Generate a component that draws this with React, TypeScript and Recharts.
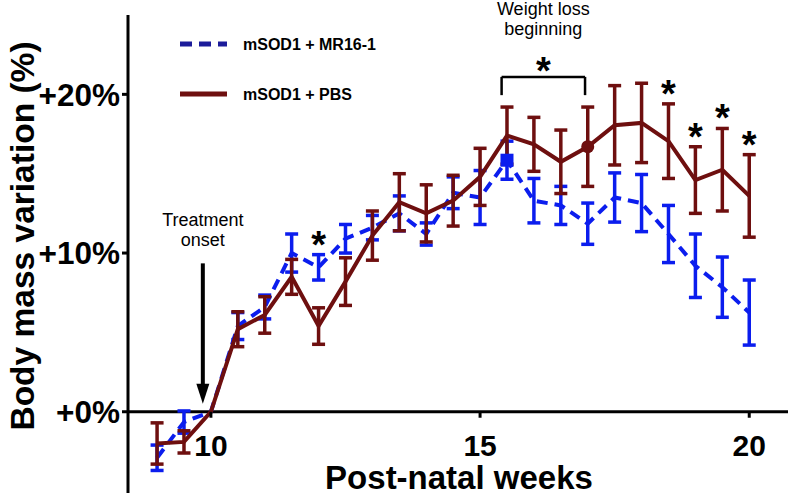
import React from 'react';
import { LineChart, Line, XAxis, YAxis, ErrorBar, ReferenceLine, ReferenceDot, Legend } from 'recharts';

const WEEKS = [9, 9.5, 10, 10.5, 11, 11.5, 12, 12.5, 13, 13.5, 14, 14.5, 15, 15.5, 16, 16.5, 17, 17.5, 18, 18.5, 19, 19.5, 20];

// mSOD1 + MR16-1 (blue, dashed)
const MR16_MEAN = [-2.9, -0.65, 0, 5.4, 6.6, 10.0, 9.1, 10.9, 11.6, 12.5, 11.2, 13.8, 13.5, 15.85, 13.3, 13.0, 11.85, 13.5, 13.15, 11.2, 9.2, 7.85, 6.25];
const MR16_SEM = [0.8, 0.7, 0, 0.85, 0.75, 1.2, 0.8, 0.9, 0.77, 1.1, 0.7, 1.0, 1.7, 1.2, 1.4, 1.2, 1.3, 1.55, 1.8, 1.8, 2.0, 1.9, 2.05];

// mSOD1 + PBS (dark red, solid)
const PBS_MEAN = [-2.0, -1.9, 0, 5.2, 6.1, 8.5, 5.4, 8.2, 11.1, 13.2, 12.5, 13.3, 14.8, 17.4, 16.85, 15.75, 16.7, 18.05, 18.2, 17.05, 14.6, 15.25, 13.6];
const PBS_SEM = [1.3, 0.7, 0, 1.1, 1.15, 1.1, 1.15, 1.5, 1.55, 1.8, 1.8, 1.6, 1.8, 1.8, 1.7, 2.0, 2.5, 2.5, 2.5, 2.35, 2.1, 2.6, 2.6];

const Y_TICKS = [0, 10, 20];
const X_TICKS = [10, 15, 20];

// single highlighted markers
const MR16_MARKER_WEEKS = [15.5];
const PBS_MARKER_WEEKS = [17];

// stars above single weeks
const SIGNIFICANT_WEEKS = [12, 18.5, 19, 19.5, 20];

// "weight loss beginning" bracket (weeks) and its height (%)
const BRACKET_WEEKS = [15.4, 16.95];
const BRACKET_LEVEL = 21.1;
const BRACKET_FOOT = 19.95;

// treatment onset arrow
const ONSET_WEEK = 9.85;
const ONSET_FROM = 9.35;
const ONSET_TO = 0.5;

const BLUE = '#0B1DEE';
const BLUE_DARK = '#1C1C9A';
const RED = '#6E0F0F';
const FONT = '"Liberation Sans", Arial, Helvetica, sans-serif';

const SERIES = [
  { key: 'mr16', name: 'mSOD1 + MR16-1', color: BLUE_DARK, dash: '12 7' },
  { key: 'pbs', name: 'mSOD1 + PBS', color: RED, dash: undefined },
];

const data = WEEKS.map((week, i) => ({
  week,
  mr16: MR16_MEAN[i],
  mr16Err: MR16_SEM[i],
  pbs: PBS_MEAN[i],
  pbsErr: PBS_SEM[i],
}));

const starLevel = (week: number) => {
  const i = WEEKS.indexOf(week);
  return Math.max(MR16_MEAN[i] + MR16_SEM[i], PBS_MEAN[i] + PBS_SEM[i]);
};

const squareDot = (props: any) => {
  const { cx, cy, payload, index } = props;
  if (!MR16_MARKER_WEEKS.includes(payload.week)) return <g key={`sq-${index}`} />;
  return <rect key={`sq-${index}`} x={cx - 6.5} y={cy - 6.5} width={13} height={13} fill={BLUE} />;
};

const circleDot = (props: any) => {
  const { cx, cy, payload, index } = props;
  if (!PBS_MARKER_WEEKS.includes(payload.week)) return <g key={`ci-${index}`} />;
  return <circle key={`ci-${index}`} cx={cx} cy={cy} r={6.5} fill={RED} />;
};

const LegendBox = () => (
  <svg width={240} height={80} style={{ display: 'block' }}>
    {SERIES.map((s, i) => (
      <g key={s.key} transform={`translate(0, ${12 + i * 50})`}>
        <line x1={8} x2={55} y1={0} y2={0} stroke={s.color} strokeWidth={5} strokeDasharray={s.dash} />
        <text x={71} y={0} dy="0.35em" fontSize={16} fontWeight={700} fontFamily={FONT} fill="#000">
          {s.name}
        </text>
      </g>
    ))}
  </svg>
);

const Star = (props: any) => (
  <text x={props.cx} y={props.cy + 3} textAnchor="middle" fontSize={38} fontWeight={700} fontFamily={FONT} fill="#000">
    *
  </text>
);

const XTick = (value: number) => (props: any) => (
  <g>
    <line x1={props.cx} x2={props.cx} y1={props.cy} y2={props.cy + 6} stroke="#000" strokeWidth={3} />
    <text x={props.cx} y={props.cy + 44} textAnchor="middle" fontSize={30} fontWeight={700} fontFamily={FONT} fill="#000">
      {value}
    </text>
  </g>
);

const BracketNote = (props: any) => (
  <g fontFamily={FONT} fill="#000" textAnchor="middle">
    <text x={props.cx} y={props.cy - 61.5} fontSize={18}>Weight loss</text>
    <text x={props.cx} y={props.cy - 42} fontSize={18}>beginning</text>
    <text x={props.cx} y={props.cy + 7} fontSize={38} fontWeight={700}>*</text>
  </g>
);

const OnsetArrow = (props: any) => {
  const { x1, y1, x2, y2 } = props;
  return (
    <g>
      <line x1={x1} y1={y1} x2={x2} y2={y2 - 18} stroke="#000" strokeWidth={4} />
      <polygon points={`${x2 - 6.5},${y2 - 20} ${x2 + 6.5},${y2 - 20} ${x2},${y2}`} fill="#000" />
      <g fontFamily={FONT} fontSize={18} fill="#000" textAnchor="middle">
        <text x={x1} y={y1 - 37}>Treatment</text>
        <text x={x1} y={y1 - 17}>onset</text>
      </g>
    </g>
  );
};

const ZeroAxis = (props: any) => {
  const { x1, y1, x2, y2 } = props;
  return (
    <g>
      <line x1={x1} y1={y1} x2={x2} y2={y2} stroke="#000" strokeWidth={3} />
      <text x={x1 + 331} y={y1 + 77} textAnchor="middle" fontSize={33} fontWeight={700} fontFamily={FONT} fill="#000">
        Post-natal weeks
      </text>
    </g>
  );
};

const YTitle = () => (
  <text
    transform="translate(22, 236) rotate(-90)"
    textAnchor="middle"
    dominantBaseline="central"
    fontSize={33.5}
    fontWeight={700}
    fontFamily={FONT}
    fill="#000"
  >
    Body mass variation (%)
  </text>
);

export default function App() {
  return (
    <div style={{ position: 'absolute', left: 0, top: 0, width: 788, height: 493, background: '#fff' }}>
      <LineChart width={788} height={493} data={data} margin={{ top: 15, right: 0, bottom: 0, left: 0 }}>
        <XAxis type="number" dataKey="week" domain={[8.46, 20.72]} hide allowDataOverflow />
        <YAxis
          type="number"
          domain={[-5.12, 25]}
          ticks={Y_TICKS}
          tickFormatter={(v) => `+${v}%`}
          width={128}
          allowDataOverflow
          axisLine={{ stroke: '#000', strokeWidth: 3 }}
          tickLine={{ stroke: '#000', strokeWidth: 3 }}
          tickSize={6}
          tick={{ fill: '#000', fontSize: 31.5, fontWeight: 700, fontFamily: FONT }}
          label={YTitle}
        />
        <ReferenceLine y={0} shape={ZeroAxis} />
        {X_TICKS.map((t) => (
          <ReferenceDot key={`xt-${t}`} x={t} y={0} shape={XTick(t)} />
        ))}
        <ReferenceLine
          segment={[{ x: ONSET_WEEK, y: ONSET_FROM }, { x: ONSET_WEEK, y: ONSET_TO }]}
          shape={OnsetArrow}
        />
        <ReferenceLine
          segment={[{ x: BRACKET_WEEKS[0], y: BRACKET_LEVEL }, { x: BRACKET_WEEKS[1], y: BRACKET_LEVEL }]}
          stroke="#000"
          strokeWidth={2.5}
        />
        {BRACKET_WEEKS.map((w) => (
          <ReferenceLine
            key={`bf-${w}`}
            segment={[{ x: w, y: BRACKET_LEVEL }, { x: w, y: BRACKET_FOOT }]}
            stroke="#000"
            strokeWidth={2.5}
          />
        ))}
        <ReferenceDot
          x={(BRACKET_WEEKS[0] + BRACKET_WEEKS[1]) / 2}
          y={BRACKET_LEVEL}
          shape={BracketNote}
          ifOverflow="visible"
        />
        <Line
          type="linear"
          dataKey="mr16"
          name="mSOD1 + MR16-1"
          stroke={BLUE}
          strokeWidth={4}
          strokeDasharray="11 7"
          dot={squareDot}
          activeDot={false}
          isAnimationActive={false}
        >
          <ErrorBar dataKey="mr16Err" direction="y" width={6.5} stroke={BLUE} strokeWidth={3.5} />
        </Line>
        <Line
          type="linear"
          dataKey="pbs"
          name="mSOD1 + PBS"
          stroke={RED}
          strokeWidth={4}
          dot={circleDot}
          activeDot={false}
          isAnimationActive={false}
        >
          <ErrorBar dataKey="pbsErr" direction="y" width={6.5} stroke={RED} strokeWidth={3.5} />
        </Line>
        {SIGNIFICANT_WEEKS.map((w) => (
          <ReferenceDot key={`st-${w}`} x={w} y={starLevel(w)} shape={Star} ifOverflow="visible" />
        ))}
        <Legend
          layout="horizontal"
          align="center"
          verticalAlign="middle"
          wrapperStyle={{ left: 172, top: 32, width: 240 }}
          content={() => <LegendBox />}
        />
      </LineChart>
    </div>
  );
}
